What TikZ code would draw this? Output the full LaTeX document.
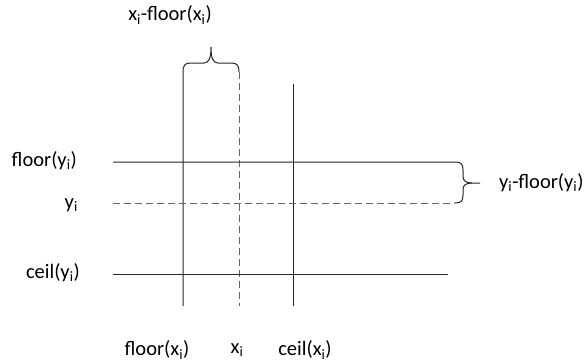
\documentclass[tikz,border=0pt]{standalone}
\usepackage{fontspec}
\setmainfont{Carlito}

\begin{document}
\begin{tikzpicture}[x=1pt, y=-1pt,
    solidline/.style={line width=1pt, black!85},
    dashline/.style={line width=1pt, black!60, dash pattern=on 7pt off 4pt},
    lbl/.style={font=\fontsize{20.5}{24}\selectfont, inner sep=0pt}
]
\useasboundingbox (0,0) rectangle (584,364);

% Grid points
\coordinate (fx-top) at (183,72);
\coordinate (fx-bot) at (183,306);
\coordinate (xi-top) at (239,72);
\coordinate (xi-bot) at (239,306);
\coordinate (cx-top) at (293,84);
\coordinate (cx-bot) at (293,306);
\coordinate (fy-left) at (113,162);
\coordinate (fy-right) at (455,162);
\coordinate (yi-left) at (113,203);
\coordinate (yi-right) at (455,203);
\coordinate (cy-left) at (113,274);
\coordinate (cy-right) at (448,274);

% Vertical lines with the top brace
\draw[solidline] (fx-bot) -- (fx-top)
    .. controls (183,65) and (185,63) .. (191,63) -- (204,63)
    .. controls (209,63) and (211,58) .. (211,47)
    .. controls (211,58) and (213,63) .. (218,63) -- (231,63)
    .. controls (237,63) and (239,65) .. (xi-top);
\draw[dashline] (xi-top) -- (xi-bot);
\draw[solidline] (cx-top) -- (cx-bot);

% Horizontal lines with the right brace
\draw[solidline] (fy-left) -- (fy-right)
    .. controls (461,162) and (463,164) .. (463,170) -- (463,176)
    .. controls (463,181) and (466,183) .. (472,183) -- (480,183);
\draw[solidline] (472,183)
    .. controls (466,183) and (463,185) .. (463,190) -- (463,195)
    .. controls (463,201) and (461,203) .. (yi-right);
\draw[dashline] (yi-left) -- (yi-right);
\draw[solidline] (cy-left) -- (cy-right);

% Labels
\node[lbl] (dx-lbl) at (170,15) {x\textsubscript{i}-floor(x\textsubscript{i})};
\node[lbl, anchor=west] (dy-lbl) at (499,183) {y\textsubscript{i}-floor(y\textsubscript{i})};
\node[lbl, anchor=east] (fy-lbl) at (77,161) {floor(y\textsubscript{i})};
\node[lbl, anchor=east] (yi-lbl) at (78,205) {y\textsubscript{i}};
\node[lbl, anchor=east] (cy-lbl) at (80,273) {ceil(y\textsubscript{i})};
\node[lbl] (fx-lbl) at (157,350) {floor(x\textsubscript{i})};
\node[lbl] (xi-lbl) at (237,350) {x\textsubscript{i}};
\node[lbl] (cx-lbl) at (305,350) {ceil(x\textsubscript{i})};

\end{tikzpicture}
\end{document}
